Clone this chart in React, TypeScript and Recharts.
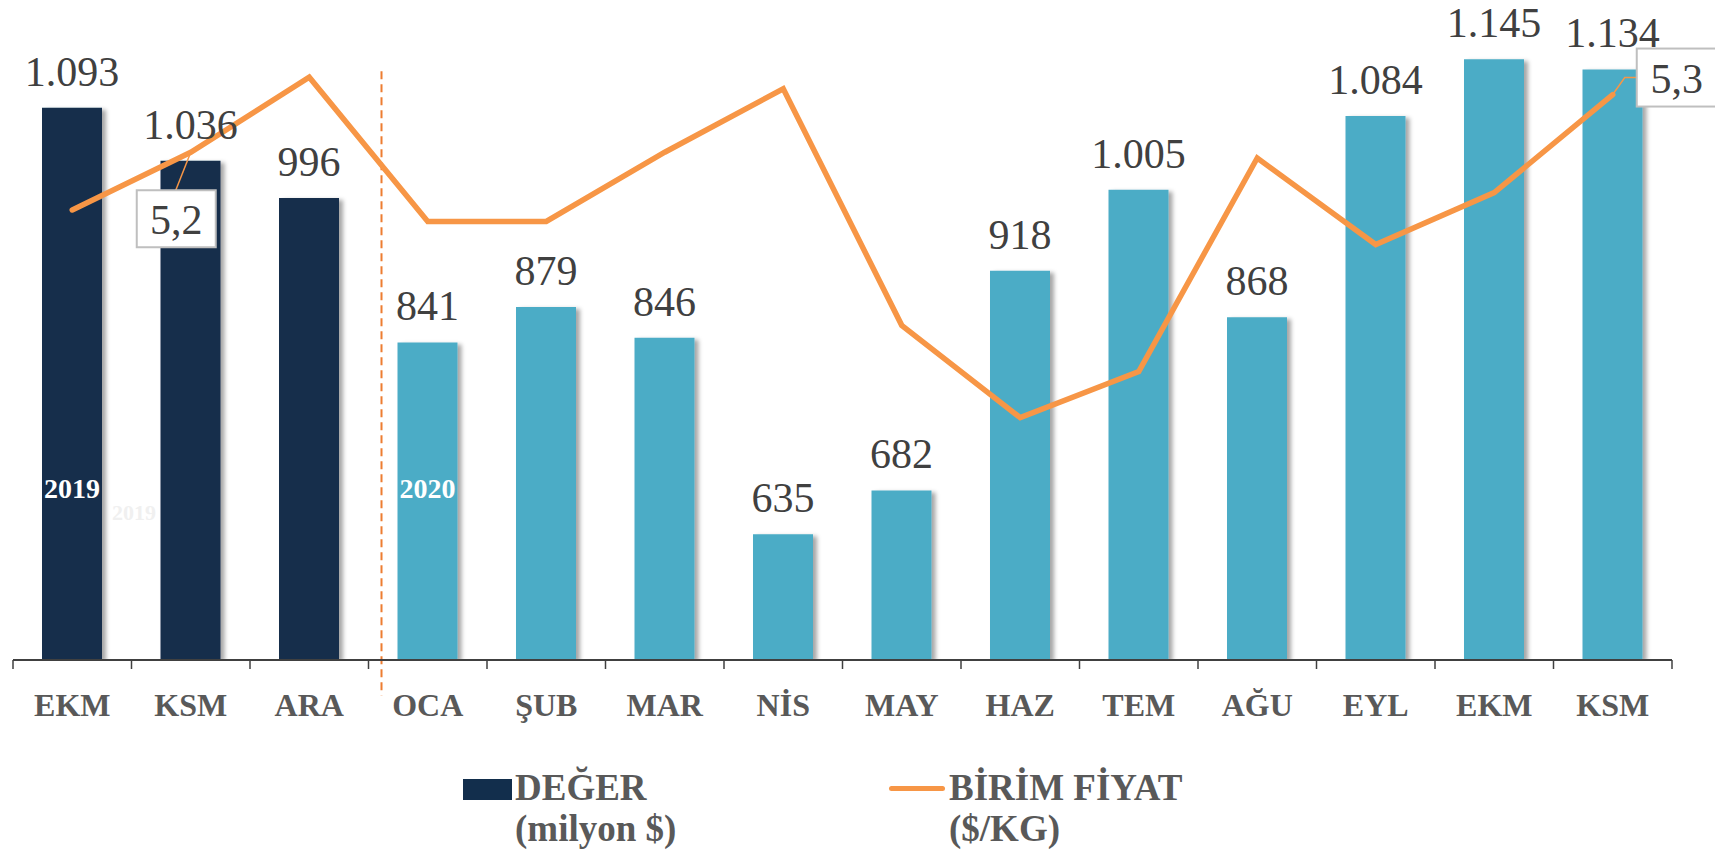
import React from 'react';
import {
    ComposedChart,
    Bar,
    Line,
    XAxis,
    YAxis,
    Cell,
    LabelList,
    ReferenceLine,
} from 'recharts';

const months = ['EKM', 'KSM', 'ARA', 'OCA', 'ŞUB', 'MAR', 'NİS', 'MAY', 'HAZ', 'TEM', 'AĞU', 'EYL', 'EKM', 'KSM'];
const years = ['2019', '2019', '2019', '2020', '2020', '2020', '2020', '2020', '2020', '2020', '2020', '2020', '2020', '2020'];
// DEĞER (milyon $)
const values = [1093, 1036, 996, 841, 879, 846, 635, 682, 918, 1005, 868, 1084, 1145, 1134];
// BİRİM FİYAT ($/KG)
const unitPrices = [5.1, 5.2, 5.33, 5.08, 5.08, 5.2, 5.31, 4.9, 4.74, 4.82, 5.19, 5.04, 5.13, 5.3];
// points of the price line that carry a boxed label
const priceCallouts = [1, 13];

const yearColors: Record<string, string> = { '2019': '#122e4c', '2020': '#4bacc6' };

const data = months.map((m, i) => ({
    key: `${m}-${years[i]}`,
    year: years[i],
    value: values[i],
    price: unitPrices[i],
}));

const serif = "'Liberation Serif', 'Times New Roman', serif";
const orange = '#f79646';

const fmtThousands = (v: number) =>
    v >= 1000 ? `${Math.floor(v / 1000)}.${String(v % 1000).padStart(3, '0')}` : String(v);

const ValueLabel = (props: any) => {
    const { x, y, width, value } = props;
    return (
        <text x={x + width / 2} y={y - 22} textAnchor="middle" fontFamily={serif} fontSize={42} fill="#404040">
            {fmtThousands(value)}
        </text>
    );
};

const YearLabel = (props: any) => {
    const { x, y, width, height, index } = props;
    if (index > 0 && years[index] === years[index - 1]) return null;
    const cx = x + width / 2;
    const by = y + height - 162;
    return (
        <g fontFamily={serif} fontWeight="bold" textAnchor="middle">
            <text x={cx} y={by} fontSize={28} fill="#ffffff">
                {years[index]}
            </text>
            {index === 0 && (
                <text x={cx + 62} y={by + 22} fontSize={22} fill="#f0f0f0">
                    {years[index]}
                </text>
            )}
        </g>
    );
};

// box position and leader relative to the line point
const calloutLayout: Record<number, { box: number[]; leader: number[][] }> = {
    1: { box: [-54, 38, 79, 57], leader: [[-15, 38]] },
    13: { box: [24, -46, 80, 58], leader: [[12, -17], [24, -17]] },
};

const PriceCallout = (props: any) => {
    const { x, y, value, index } = props;
    if (!priceCallouts.includes(index)) return null;
    const lay = calloutLayout[index];
    const [bx, by, bw, bh] = lay.box;
    const path = `M${x},${y} ` + lay.leader.map(([dx, dy]) => `L${x + dx},${y + dy}`).join(' ');
    return (
        <g>
            <path d={path} fill="none" stroke={orange} strokeWidth={1.5} />
            <rect x={x + bx} y={y + by} width={bw} height={bh} fill="#ffffff" stroke="#bfbfbf" strokeWidth={2} />
            <text
                x={x + bx + bw / 2}
                y={y + by + 44}
                textAnchor="middle"
                fontFamily={serif}
                fontSize={42}
                fill="#404040"
            >
                {Number(value).toFixed(1).replace('.', ',')}
            </text>
        </g>
    );
};

const MonthTick = (props: any) => {
    const { x, y, payload, index } = props;
    const half = payload?.offset || 59;
    const axisY = y - 9;
    const label = String(payload.value).split('-')[0];
    return (
        <g>
            <line x1={x - half} y1={axisY} x2={x - half} y2={axisY + 9} stroke="#404040" strokeWidth={1.5} />
            {index === months.length - 1 && (
                <line x1={x + half} y1={axisY} x2={x + half} y2={axisY + 9} stroke="#404040" strokeWidth={1.5} />
            )}
            <text x={x} y={axisY + 56} textAnchor="middle" fontFamily={serif} fontWeight="bold" fontSize={32} fill="#595959">
                {label}
            </text>
        </g>
    );
};

const dividerShift = 13;
const DividerShape = (props: any) => {
    const { x1, y1, x2, y2 } = props;
    return (
        <line
            x1={x1 + dividerShift}
            y1={y1}
            x2={x2 + dividerShift}
            y2={y2}
            stroke="#ed7d31"
            strokeWidth={2}
            strokeDasharray="8 5"
        />
    );
};

const legendText: React.CSSProperties = {
    position: 'absolute',
    fontFamily: serif,
    fontWeight: 'bold',
    fontSize: 37,
    lineHeight: '41px',
    color: '#595959',
    whiteSpace: 'nowrap',
};

export default function App() {
    return (
        <div style={{ position: 'fixed', left: 0, top: 0, width: 1715, height: 853, overflow: 'hidden', background: '#fff' }}>
            <svg width={0} height={0} style={{ position: 'absolute' }}>
                <defs>
                    <filter id="barShadow" x="-20%" y="-5%" width="150%" height="115%">
                        <feDropShadow dx={4} dy={2} stdDeviation={2} floodColor="#000" floodOpacity={0.35} />
                    </filter>
                </defs>
            </svg>
            <ComposedChart width={1715} height={853} data={data} margin={{ top: 8, right: 43, bottom: 133, left: 13 }}>
                <XAxis
                    dataKey="key"
                    interval={0}
                    height={60}
                    tickLine={false}
                    tickSize={9}
                    tickMargin={0}
                    axisLine={{ stroke: '#404040', strokeWidth: 2 }}
                    tick={<MonthTick />}
                />
                <YAxis yAxisId="v" hide domain={[500, 1200]} allowDataOverflow />
                <YAxis yAxisId="p" hide orientation="right" domain={[4.32, 5.45]} allowDataOverflow />
                <Bar yAxisId="v" dataKey="value" barSize={60} isAnimationActive={false}>
                    {data.map((d) => (
                        <Cell key={d.key} fill={yearColors[d.year]} filter="url(#barShadow)" />
                    ))}
                    <LabelList dataKey="value" content={<ValueLabel />} />
                    <LabelList dataKey="value" content={<YearLabel />} />
                </Bar>
                <ReferenceLine
                    yAxisId="v"
                    position="start"
                    ifOverflow="visible"
                    segment={[
                        { x: 'OCA-2020', y: 1132 },
                        { x: 'OCA-2020', y: 462 },
                    ]}
                    shape={<DividerShape />}
                />
                <Line
                    yAxisId="p"
                    type="linear"
                    dataKey="price"
                    stroke={orange}
                    strokeWidth={5.5}
                    strokeLinecap="round"
                    dot={false}
                    activeDot={false}
                    isAnimationActive={false}
                >
                    <LabelList dataKey="price" content={<PriceCallout />} />
                </Line>
            </ComposedChart>
            <div style={{ position: 'absolute', left: 463, top: 779, width: 49, height: 21, background: yearColors['2019'] }} />
            <div style={{ ...legendText, left: 515, top: 767 }}>
                DEĞER
                <br />
                (milyon $)
            </div>
            <div style={{ position: 'absolute', left: 889, top: 786, width: 56, height: 5, borderRadius: 3, background: orange }} />
            <div style={{ ...legendText, left: 949, top: 767 }}>
                BİRİM FİYAT
                <br />
                ($/KG)
            </div>
        </div>
    );
}
